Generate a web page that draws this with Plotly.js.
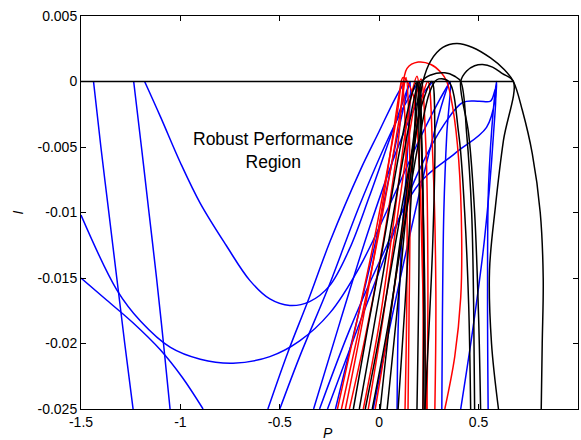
<!DOCTYPE html>
<html>
<head>
<meta charset="utf-8">
<script src="https://cdn.plot.ly/plotly-3.0.1.min.js"></script>
<style>html,body{margin:0;padding:0;background:#fff;}#chart{width:581px;height:440px;}</style>
</head>
<body>
<div id="chart"></div>
<script>
// Axis ticks
const xTickVals = [-1.5, -1, -0.5, 0, 0.5, 1];
const xTickText = ['-1.5', '-1', '-0.5', '0', '0.5', '1'];
const yTickVals = [-0.025, -0.02, -0.015, -0.01, -0.005, 0, 0.005];
const yTickText = ['-0.025', '-0.02', '-0.015', '-0.01', '-0.005', '0', '0.005'];

// Zero boundary line (I = 0)
const zeroX = [-1.5, 0.675];
const zeroY = [0, 0];

// Blue curves (P values, I values)
const blueX = [
  [-1.437, -1.40, -1.36, -1.32, -1.28, -1.238],
  [-1.235, -1.196, -1.158, -1.12, -1.085, -1.052],
  [-1.18, -1.10, -1.0, -0.90, -0.77, -0.65, -0.55, -0.45, -0.35, -0.25, -0.15, -0.05, 0.05, 0.12, 0.155],
  [-1.5, -1.37, -1.24, -1.10, -0.99, -0.886],
  [-1.5, -1.32, -1.2, -1.05, -0.9, -0.735, -0.55, -0.4, -0.25, -0.1, 0.05, 0.2, 0.3, 0.357],
  [-0.56, -0.46, -0.357, -0.247, -0.096, 0.0, 0.08, 0.13],
  [-0.50, -0.40, -0.25, -0.1, 0.05, 0.15, 0.2],
  [-0.33, -0.2, -0.05, 0.1, 0.2, 0.27],
  [-0.30, -0.15, 0.0, 0.2, 0.38, 0.54, 0.585, 0.59, 0.575, 0.55, 0.545, 0.548],
  [-0.26, -0.1, 0.05, 0.2, 0.33, 0.42, 0.5, 0.56, 0.585, 0.575, 0.53, 0.47, 0.41],
  [-0.03, 0.05, 0.15, 0.25, 0.32, 0.357, 0.34, 0.325, 0.318, 0.315],
  [-0.22, -0.1, 0.0, 0.08, 0.13, 0.155, 0.14, 0.11, 0.095, 0.09]
];
const blueY = [
  [0, -0.005, -0.01, -0.015, -0.02, -0.025],
  [0, -0.005, -0.01, -0.015, -0.02, -0.025],
  [0, -0.0027, -0.0062, -0.0093, -0.0125, -0.0152, -0.0166, -0.0171, -0.0168, -0.0156, -0.0128, -0.0088, -0.0045, -0.0015, 0],
  [-0.015, -0.0167, -0.0184, -0.0205, -0.0226, -0.025],
  [-0.0102, -0.0159, -0.0183, -0.0203, -0.0212, -0.0215, -0.0210, -0.0198, -0.0177, -0.0142, -0.0095, -0.0045, -0.0015, 0],
  [-0.025, -0.0207, -0.0167, -0.0122, -0.0068, -0.0038, -0.0013, 0],
  [-0.025, -0.021, -0.0155, -0.0095, -0.0042, -0.0012, 0],
  [-0.025, -0.0185, -0.0112, -0.0048, -0.0014, 0],
  [-0.025, -0.019, -0.0138, -0.0078, -0.0055, -0.0035, -0.0012, 0, -0.002, -0.008, -0.016, -0.025],
  [-0.025, -0.0185, -0.0125, -0.0068, -0.0032, -0.0016, -0.0015, -0.0015, -0.0006, -0.004, -0.012, -0.019, -0.025],
  [-0.025, -0.019, -0.012, -0.0055, -0.0015, 0, -0.004, -0.01, -0.018, -0.025],
  [-0.025, -0.0175, -0.011, -0.005, -0.0015, 0, -0.006, -0.013, -0.019, -0.025]
];

// Red curves
const redX = [
  [-0.21, -0.13, -0.04, 0.04, 0.09, 0.115, 0.13, 0.14, 0.138, 0.13],
  [-0.19, -0.11, -0.02, 0.06, 0.11, 0.135, 0.15, 0.155, 0.15, 0.145],
  [-0.15, -0.07, 0.0, 0.06, 0.1, 0.115, 0.14, 0.196, 0.26, 0.31, 0.34, 0.37, 0.40, 0.415, 0.41, 0.38, 0.33],
  [-0.08, 0.0, 0.07, 0.13, 0.17, 0.19, 0.21, 0.22, 0.22],
  [-0.055, 0.02, 0.09, 0.15, 0.19, 0.21, 0.235, 0.245, 0.24],
  [-0.02, 0.05, 0.12, 0.18, 0.22, 0.245, 0.27, 0.285, 0.28],
  [-0.17, -0.08, 0.0, 0.07, 0.1, 0.12, 0.17, 0.2, 0.22, 0.24]
];
const redY = [
  [-0.025, -0.0195, -0.0132, -0.0068, -0.0025, 0.0, -0.003, -0.01, -0.018, -0.025],
  [-0.025, -0.0195, -0.013, -0.0065, -0.002, 0.0003, -0.003, -0.01, -0.018, -0.025],
  [-0.025, -0.0195, -0.014, -0.0085, -0.004, -0.0012, 0.001, 0.00148, 0.0013, 0.0007, 0.0, -0.002, -0.006, -0.012, -0.0165, -0.021, -0.025],
  [-0.025, -0.0185, -0.011, -0.004, -0.0005, 0.0004, -0.004, -0.014, -0.025],
  [-0.025, -0.018, -0.0105, -0.0042, -0.0008, 0.0002, -0.005, -0.015, -0.025],
  [-0.025, -0.0185, -0.011, -0.0045, -0.001, 0.0, -0.006, -0.016, -0.025],
  [-0.025, -0.018, -0.011, -0.004, -0.001, 0.0003, -0.001, -0.006, -0.016, -0.025]
];

// Black curves
const blackX = [
  [0.04, 0.09, 0.14, 0.19, 0.22, 0.26, 0.32, 0.39, 0.47, 0.56, 0.63, 0.675, 0.72, 0.77, 0.81, 0.825, 0.82, 0.815],
  [0.51, 0.50, 0.48, 0.45, 0.41, 0.44, 0.48, 0.52, 0.57, 0.62, 0.675, 0.625, 0.585, 0.555, 0.565, 0.60],
  [0.005, 0.06, 0.12, 0.18, 0.215, 0.26, 0.33, 0.38, 0.41, 0.44, 0.465, 0.475, 0.48],
  [-0.13, -0.06, 0.02, 0.1, 0.16, 0.19, 0.2, 0.2, 0.19],
  [-0.10, -0.03, 0.05, 0.13, 0.18, 0.2, 0.215, 0.225, 0.22],
  [-0.07, 0.0, 0.08, 0.16, 0.22, 0.265, 0.28, 0.27, 0.25, 0.23],
  [-0.035, 0.04, 0.12, 0.2, 0.25, 0.28, 0.3, 0.35, 0.4, 0.43, 0.45, 0.46],
  [0.095, 0.13, 0.16, 0.18, 0.19, 0.205, 0.22, 0.23, 0.23]
];
const blackY = [
  [-0.025, -0.0175, -0.0095, -0.0035, 0.0, 0.0016, 0.0026, 0.0029, 0.0026, 0.0018, 0.0009, 0.0, -0.0022, -0.0055, -0.010, -0.015, -0.020, -0.025],
  [-0.025, -0.018, -0.01, -0.004, 0.0, 0.0008, 0.0012, 0.0013, 0.0011, 0.0006, 0.0, -0.0045, -0.0095, -0.0144, -0.02, -0.025],
  [-0.025, -0.0175, -0.0105, -0.0035, 0.0, 0.0005, 0.00066, 0.0004, 0.0, -0.004, -0.01, -0.017, -0.025],
  [-0.025, -0.019, -0.0125, -0.0055, -0.0012, 0.0, -0.004, -0.014, -0.025],
  [-0.025, -0.019, -0.012, -0.005, -0.001, 0.0, -0.005, -0.015, -0.025],
  [-0.025, -0.0195, -0.0125, -0.0058, -0.0015, 0.0, -0.004, -0.012, -0.019, -0.025],
  [-0.025, -0.019, -0.0115, -0.0045, -0.001, 0.0, 0.0002, 0.0, -0.004, -0.01, -0.017, -0.025],
  [-0.025, -0.017, -0.009, -0.003, 0.0, -0.002, -0.009, -0.017, -0.025]
];

const LW = 1.5;
const traces = [];
function addGroup(xs, ys, color) {
  for (let i = 0; i < xs.length; i++) {
    traces.push({
      type: 'scatter', mode: 'lines', x: xs[i], y: ys[i],
      line: {color: color, width: LW, shape: 'spline', smoothing: 1.0},
      hoverinfo: 'skip', showlegend: false
    });
  }
}
addGroup(blueX, blueY, '#0000ff');
addGroup(redX, redY, '#ff0000');
addGroup(blackX, blackY, '#000000');
traces.push({type: 'scatter', mode: 'lines', x: zeroX, y: zeroY,
  line: {color: '#000000', width: 1.6}, hoverinfo: 'skip', showlegend: false});

const font = 'Liberation Sans, Arial, Helvetica, sans-serif';
const axisCommon = {
  showgrid: false, zeroline: false, showline: true, linecolor: '#000', linewidth: 1,
  ticks: 'inside', ticklen: 5, tickwidth: 1, tickcolor: '#000', mirror: 'ticks',
  tickfont: {family: font, size: 14, color: '#000'}, fixedrange: true
};
const layout = {
  width: 581, height: 440,
  margin: {l: 81, r: 3, t: 16, b: 31},
  paper_bgcolor: '#fff', plot_bgcolor: '#fff',
  showlegend: false,
  xaxis: Object.assign({}, axisCommon, {range: [-1.5, 1], tickmode: 'array', tickvals: xTickVals, ticktext: xTickText}),
  yaxis: Object.assign({}, axisCommon, {range: [-0.025, 0.005], tickmode: 'array', tickvals: yTickVals, ticktext: yTickText}),
  annotations: [
    {xref: 'x', yref: 'y', x: -0.533, y: -0.0053, text: 'Robust Performance<br>Region', showarrow: false,
     font: {family: font, size: 17.5, color: '#000'}, align: 'center'},
    {xref: 'x', yref: 'paper', x: -0.257, y: 0, yshift: -14, yanchor: 'top', text: '<i>P</i>', showarrow: false,
     font: {family: font, size: 14, color: '#000'}},
    {xref: 'paper', yref: 'y', x: 0, xshift: -74, y: -0.01, text: '<i>I</i>', textangle: -90, showarrow: false,
     font: {family: font, size: 14, color: '#000'}}
  ]
};
Plotly.newPlot('chart', traces, layout, {staticPlot: true, displayModeBar: false});
</script>
</body>
</html>
